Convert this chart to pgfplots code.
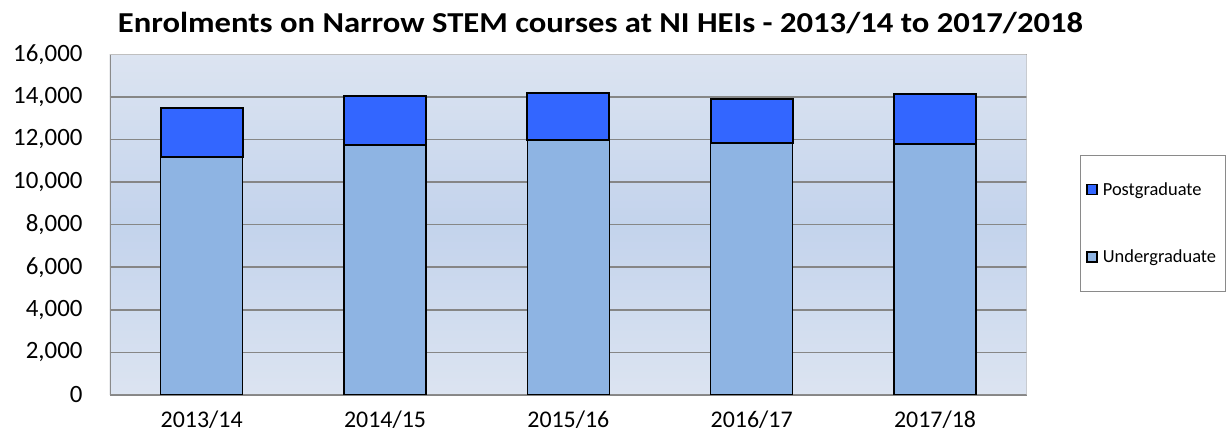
\documentclass[border=0pt]{standalone}
\usepackage{graphicx}
\usepackage{pgfplots}
\pgfplotsset{compat=1.18}
\usepackage{fontspec}
\setmainfont{Carlito}
\definecolor{ug}{HTML}{8EB4E3}
\definecolor{pg}{HTML}{3366FF}
\definecolor{bgA}{HTML}{DCE4F1}
\definecolor{bgB}{HTML}{C3D3EC}
\definecolor{gridc}{HTML}{868686}
\definecolor{frameL}{HTML}{BFBFBF}
\definecolor{frameD}{HTML}{8A8A8A}
\begin{document}
\begin{tikzpicture}
\path[use as bounding box] (-110bp,-48bp) rectangle (1116bp,395bp);
\begin{axis}[
  scale only axis, width=916.7bp, height=340.7bp,
  ybar stacked, bar width=0.447,
  legend image code/.code={\draw[#1, draw=black, line width=1.5bp] (0bp,-5bp) rectangle (10bp,5bp);},
  xmin=-0.5, xmax=4.5, ymin=0, ymax=16000,
  xtick={0,...,4}, xticklabels={2013/14,2014/15,2015/16,2016/17,2017/18},
  ytick={0,2000,...,16000},
  major tick length=0pt,
  ymajorgrids, grid style={gridc, line width=1.5bp},
  axis line style={draw=none},
  axis background/.style={top color=bgA, bottom color=bgA, middle color=bgB},
  tick label style={font=\fontsize{24}{28}\selectfont},
  yticklabel style={xshift=-24bp, font=\fontsize{25}{28}\selectfont},
  xticklabel style={yshift=-12bp},
  /pgf/number format/1000 sep={,},
  /pgf/number format/assume math mode=true,
  scaled y ticks=false,
  title={\scalebox{1.13}[1]{Enrolments on Narrow STEM courses at NI HEIs - 2013/14 to 2017/2018}},
  title style={at={(0.535,1.075)}, anchor=center, font=\bfseries\fontsize{29}{32}\selectfont},
  reverse legend,
  legend cell align=left,
  legend style={at={(1.058,0.7045)}, anchor=north west, draw=frameD, line width=1bp,
    font=\fontsize{18.5}{21}\selectfont, inner xsep=6bp, inner ysep=25bp, row sep=49bp},
]
\addplot[fill=ug, draw=black, line width=1.5bp] coordinates {(0,11160) (1,11752) (2,11958) (3,11816) (4,11784)};
\addlegendentry{\hspace{3bp}\makebox[115bp][l]{Undergraduate}}
\addplot[fill=pg, draw=black, line width=2bp] coordinates {(0,2300) (1,2272) (2,2207) (3,2081) (4,2363)};
\addlegendentry{\hspace{3bp}\makebox[115bp][l]{Postgraduate}}
\draw[frameL, line width=2bp] (rel axis cs:0,1) -- (rel axis cs:1,1) -- (rel axis cs:1,0);
\draw[frameD, line width=2bp] (rel axis cs:0,1) -- (rel axis cs:0,0) -- (rel axis cs:1,0);
\end{axis}
\end{tikzpicture}
\end{document}
